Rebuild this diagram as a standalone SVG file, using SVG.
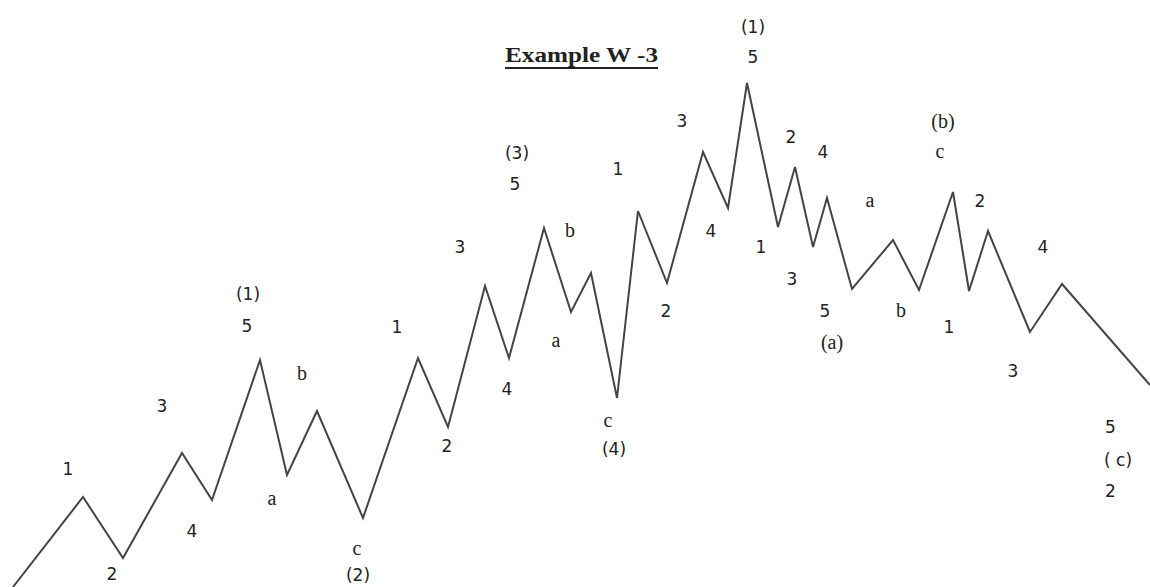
<svg xmlns="http://www.w3.org/2000/svg" width="1150" height="587" viewBox="0 0 1150 587">
<style>
.lbl{font-family:"DejaVu Sans","Liberation Sans",sans-serif;font-size:17px;fill:#222;text-anchor:middle}
.ser{font-family:"Liberation Serif","Times New Roman",serif;font-size:20px}
.lft{text-anchor:start}
.title{font-family:"Liberation Serif","Times New Roman",serif;font-size:21px;font-weight:bold;fill:#222}
.wave{fill:none;stroke:#444;stroke-width:2;stroke-linejoin:miter}
</style>
<rect width="1150" height="587" fill="#fff"/>
<g id="title">
<text class="title" x="505" y="62" textLength="153" lengthAdjust="spacingAndGlyphs">Example W -3</text>
<line x1="505" y1="68" x2="658" y2="68" stroke="#222" stroke-width="2"/>
</g>
<g id="connectors">
<polyline class="wave" points="13,587 83,497 123,558 182,453 212,500 260,360 287,475 317,411 363,518 418,358 448,427 485,286 509,358 544,228 571,312 591,273 617,398 638,211 667,283 703,152 728,208 747,83 778,227 795,167 813,247 827,198 852,289 893,240 919,290 953,192 969,291 988,231 1030,332 1062,284 1150,385"/>
</g>
<g id="labels">
<text class="lbl" x="68" y="475">1</text>
<text class="lbl" x="112" y="580">2</text>
<text class="lbl" x="162" y="412">3</text>
<text class="lbl" x="192" y="537">4</text>
<text class="lbl" x="248" y="300">(1)</text>
<text class="lbl" x="247" y="332">5</text>
<text class="lbl ser" x="272" y="505">a</text>
<text class="lbl ser" x="302" y="380">b</text>
<text class="lbl ser" x="357" y="555">c</text>
<text class="lbl" x="358" y="581">(2)</text>
<text class="lbl" x="397" y="333">1</text>
<text class="lbl" x="447" y="452">2</text>
<text class="lbl" x="460" y="253">3</text>
<text class="lbl" x="507" y="395">4</text>
<text class="lbl" x="517" y="159">(3)</text>
<text class="lbl" x="515" y="190">5</text>
<text class="lbl ser" x="556" y="347">a</text>
<text class="lbl ser" x="570" y="237">b</text>
<text class="lbl ser" x="608" y="427">c</text>
<text class="lbl" x="614" y="455">(4)</text>
<text class="lbl" x="618" y="175">1</text>
<text class="lbl" x="666" y="317">2</text>
<text class="lbl" x="682" y="127">3</text>
<text class="lbl" x="711" y="237">4</text>
<text class="lbl" x="753" y="33">(1)</text>
<text class="lbl" x="753" y="63">5</text>
<text class="lbl" x="761" y="253">1</text>
<text class="lbl" x="791" y="143">2</text>
<text class="lbl" x="792" y="285">3</text>
<text class="lbl" x="823" y="158">4</text>
<text class="lbl" x="825" y="317">5</text>
<text class="lbl ser" x="832" y="349">(a)</text>
<text class="lbl ser" x="870" y="207">a</text>
<text class="lbl ser" x="901" y="317">b</text>
<text class="lbl ser" x="943" y="128">(b)</text>
<text class="lbl ser" x="940" y="158">c</text>
<text class="lbl" x="949" y="333">1</text>
<text class="lbl" x="980" y="207">2</text>
<text class="lbl" x="1013" y="377">3</text>
<text class="lbl" x="1043" y="253">4</text>
<text class="lbl lft" x="1105" y="433">5</text>
<text class="lbl lft" x="1104" y="466">( c)</text>
<text class="lbl lft" x="1105" y="497">2</text>
</g>
</svg>
